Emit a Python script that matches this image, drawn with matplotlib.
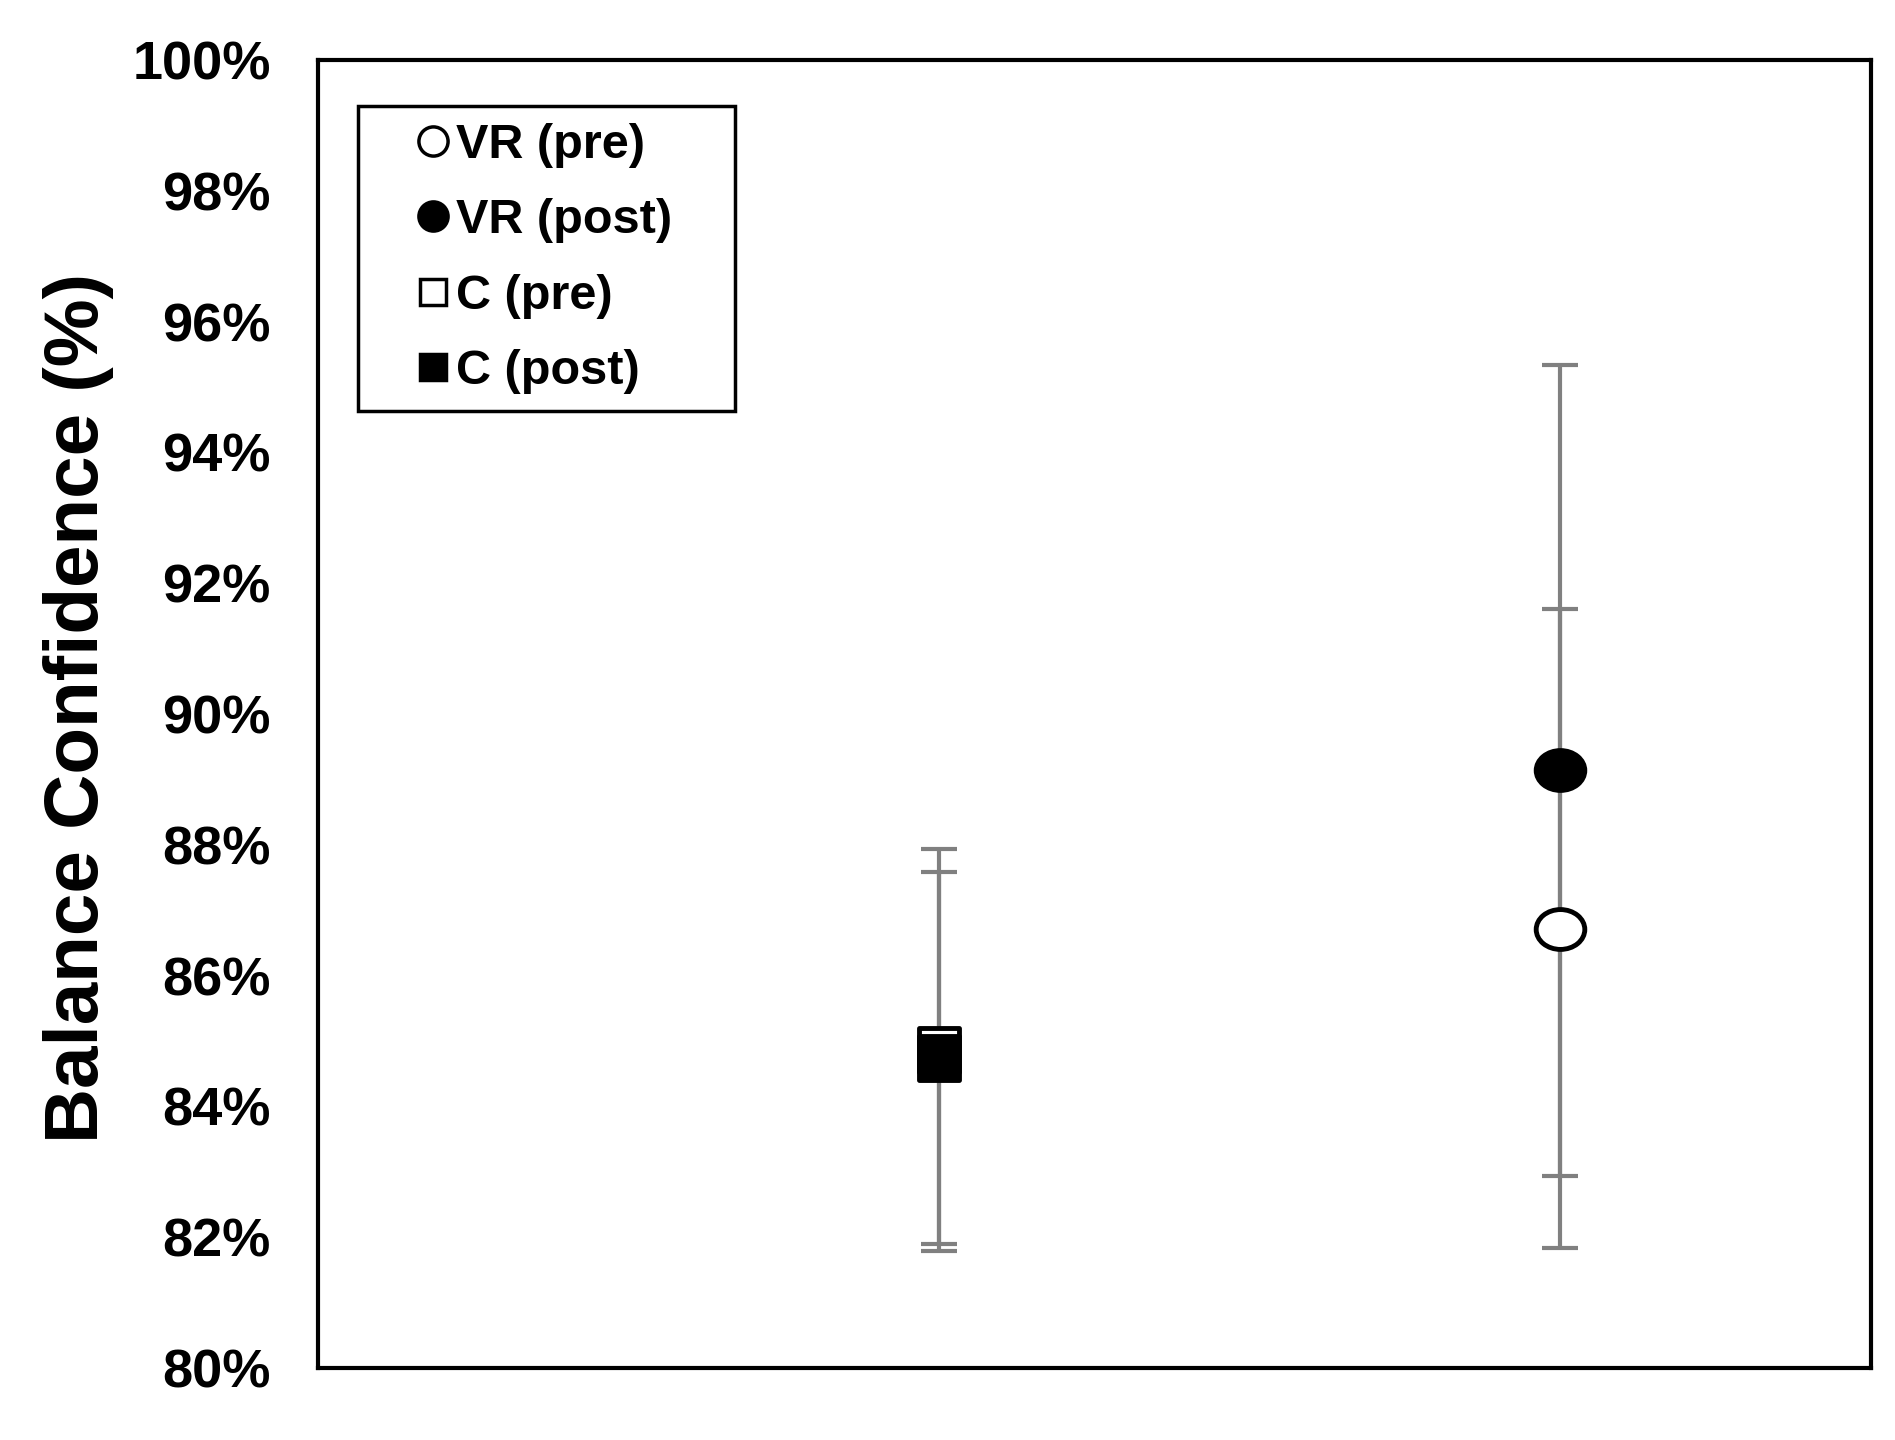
import numpy as np
import matplotlib
matplotlib.use("Agg")
import matplotlib.pyplot as plt
from matplotlib.path import Path
from matplotlib.lines import Line2D

plt.rcParams['font.family'] = ['Liberation Sans', 'DejaVu Sans']
plt.rcParams['font.weight'] = 'bold'

# Data
series = ["VR (pre)", "VR (post)", "C (pre)", "C (post)"]
x_pos = [2, 2, 1, 1]
means = [86.72, 89.14, 84.86, 84.74]
errors = [4.88, 6.20, 3.07, 2.85]
y_ticks = [80, 82, 84, 86, 88, 90, 92, 94, 96, 98, 100]

# Marker shapes (source image is stretched: circles wide, squares tall)
circ = Path.unit_circle()
ellipse = Path(circ.vertices * np.array([1.0, 0.82]), circ.codes)
rect = Path([(-0.9, -1), (0.9, -1), (0.9, 1), (-0.9, 1), (-0.9, -1)],
            [Path.MOVETO, Path.LINETO, Path.LINETO, Path.LINETO, Path.CLOSEPOLY])
markers = [ellipse, ellipse, rect, rect]
msizes = [35, 35, 32, 32]
faces = ["white", "black", "white", "black"]

fig = plt.figure(figsize=(18.95, 14.4), dpi=100)
ax = fig.add_axes([318/1895, 1 - 1368/1440, (1871-318)/1895, (1368-60)/1440])

for xp, m, e in zip(x_pos, means, errors):
    ax.errorbar([xp], [m], yerr=[e], fmt='none', ecolor='#808080',
                elinewidth=3, capsize=13, capthick=3, zorder=2)
for xp, m, mk, ms, fc in zip(x_pos, means, markers, msizes, faces):
    ax.plot([xp], [m], linestyle='none', marker=mk, markersize=ms,
            markerfacecolor=fc, markeredgecolor='black', markeredgewidth=3.5, zorder=3)

ax.set_xlim(0, 2.5)
ax.set_ylim(80, 100)
ax.set_xticks([])
ax.set_yticks(y_ticks)
ax.set_yticklabels([f"{t}%" for t in y_ticks], fontsize=39, fontweight='bold')
ax.tick_params(axis='y', length=0, pad=34)
for sp in ax.spines.values():
    sp.set_linewidth(3)
    sp.set_color('black')

fig.text(79/1895, 1 - 708/1440, "Balance Confidence (%)", rotation=90,
         fontsize=55, fontweight='bold', ha='center', va='center')

leg_markers = ['o', 'o', 's', 's']
leg_sizes = [21, 21, 19, 19]
handles = []
for name, mk, ms, fc in zip(series, leg_markers, leg_sizes, faces):
    handles.append(Line2D([], [], linestyle='none', marker=mk, markersize=ms,
                          markerfacecolor=fc, markeredgecolor='black', markeredgewidth=2.5,
                          label=name))
leg = ax.legend(handles=handles, loc='upper left',
                bbox_to_anchor=(0.0258, 0.5, 0.2428, 0.465), mode='expand',
                prop={'weight': 'bold', 'size': 35}, frameon=True, fancybox=False,
                edgecolor='black', handlelength=2.35, handletextpad=-0.7,
                borderpad=0.36, labelspacing=0.62, borderaxespad=0)
leg.get_frame().set_linewidth(2.5)
leg.get_frame().set_alpha(1)

fig.savefig("out.png", dpi=100)
